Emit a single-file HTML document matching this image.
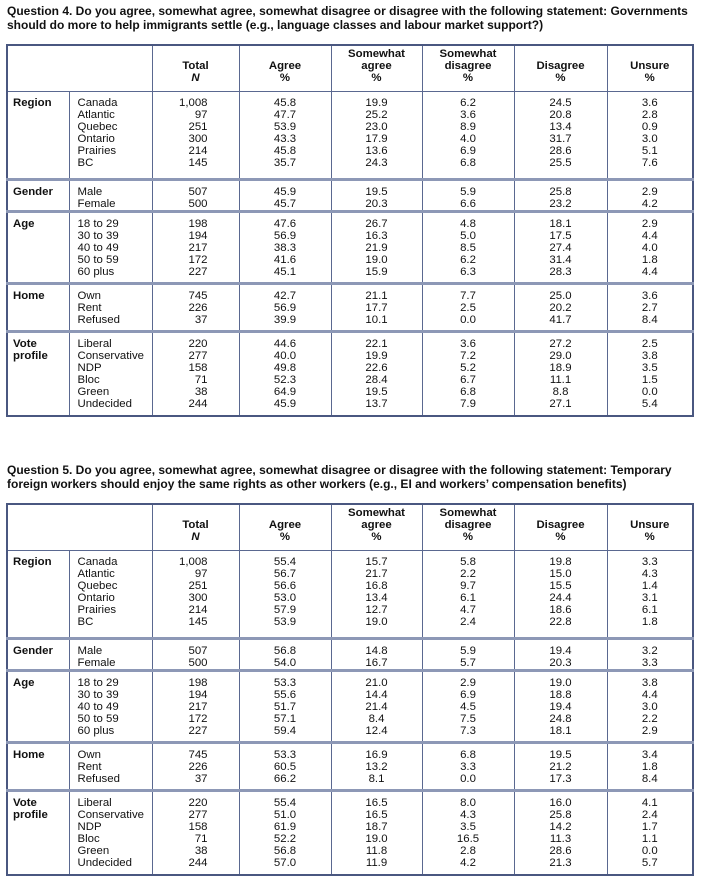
<!DOCTYPE html>
<html><head><meta charset="utf-8"><style>
body{margin:0;width:701px;height:886px;background:#fff;font-family:"Liberation Sans",sans-serif;color:#111;position:relative;overflow:hidden}
.t{position:absolute;left:7px;font-weight:bold;font-size:12px;line-height:14px;white-space:nowrap}
table{position:absolute;left:6px;border-collapse:collapse;table-layout:fixed;font-size:11.4px;line-height:12px}
td,th{border:1.5px solid #5a6890;padding:0;vertical-align:top}
th{font-weight:bold;text-align:center;vertical-align:bottom;padding-bottom:7px;height:38px}
tr.g td{border-top:3px solid #8d98b6}
td{padding-top:5px}
td.l1{font-weight:bold;padding-left:5px}
td.l2{padding-left:8px}
td.n{text-align:right;padding-right:31px}
td.c{text-align:center}
table{border:2px solid #4a5780}
</style></head><body>
<div class="t" style="top:4px">Question 4. Do you agree, somewhat agree, somewhat disagree or disagree with the following statement: Governments<br>should do more to help immigrants settle (e.g., language classes and labour market support?)</div>
<table style="top:44px;width:688px">
<colgroup><col style="width:62px"><col style="width:83px"><col style="width:87px"><col style="width:92px"><col style="width:91px"><col style="width:92px"><col style="width:93px"><col style="width:86px"></colgroup>
<tr><th colspan="2" style="height:38px"></th><th>Total<br><i>N</i></th><th>Agree<br>%</th><th>Somewhat<br>agree<br>%</th><th>Somewhat<br>disagree<br>%</th><th>Disagree<br>%</th><th>Unsure<br>%</th></tr>
<tr style="height:88px"><td class="l1">Region</td><td class="l2">Canada<br>Atlantic<br>Quebec<br>Ontario<br>Prairies<br>BC</td><td class="n">1,008<br>97<br>251<br>300<br>214<br>145</td><td class="c">45.8<br>47.7<br>53.9<br>43.3<br>45.8<br>35.7</td><td class="c">19.9<br>25.2<br>23.0<br>17.9<br>13.6<br>24.3</td><td class="c">6.2<br>3.6<br>8.9<br>4.0<br>6.9<br>6.8</td><td class="c">24.5<br>20.8<br>13.4<br>31.7<br>28.6<br>25.5</td><td class="c">3.6<br>2.8<br>0.9<br>3.0<br>5.1<br>7.6</td></tr>
<tr class="g" style="height:32px"><td class="l1">Gender</td><td class="l2">Male<br>Female</td><td class="n">507<br>500</td><td class="c">45.9<br>45.7</td><td class="c">19.5<br>20.3</td><td class="c">5.9<br>6.6</td><td class="c">25.8<br>23.2</td><td class="c">2.9<br>4.2</td></tr>
<tr class="g" style="height:72px"><td class="l1">Age</td><td class="l2">18 to 29<br>30 to 39<br>40 to 49<br>50 to 59<br>60 plus</td><td class="n">198<br>194<br>217<br>172<br>227</td><td class="c">47.6<br>56.9<br>38.3<br>41.6<br>45.1</td><td class="c">26.7<br>16.3<br>21.9<br>19.0<br>15.9</td><td class="c">4.8<br>5.0<br>8.5<br>6.2<br>6.3</td><td class="c">18.1<br>17.5<br>27.4<br>31.4<br>28.3</td><td class="c">2.9<br>4.4<br>4.0<br>1.8<br>4.4</td></tr>
<tr class="g" style="height:48px"><td class="l1">Home</td><td class="l2">Own<br>Rent<br>Refused</td><td class="n">745<br>226<br>37</td><td class="c">42.7<br>56.9<br>39.9</td><td class="c">21.1<br>17.7<br>10.1</td><td class="c">7.7<br>2.5<br>0.0</td><td class="c">25.0<br>20.2<br>41.7</td><td class="c">3.6<br>2.7<br>8.4</td></tr>
<tr class="g" style="height:84px"><td class="l1">Vote<br>profile</td><td class="l2">Liberal<br>Conservative<br>NDP<br>Bloc<br>Green<br>Undecided</td><td class="n">220<br>277<br>158<br>71<br>38<br>244</td><td class="c">44.6<br>40.0<br>49.8<br>52.3<br>64.9<br>45.9</td><td class="c">22.1<br>19.9<br>22.6<br>28.4<br>19.5<br>13.7</td><td class="c">3.6<br>7.2<br>5.2<br>6.7<br>6.8<br>7.9</td><td class="c">27.2<br>29.0<br>18.9<br>11.1<br>8.8<br>27.1</td><td class="c">2.5<br>3.8<br>3.5<br>1.5<br>0.0<br>5.4</td></tr>
</table>

<div class="t" style="top:463px">Question 5. Do you agree, somewhat agree, somewhat disagree or disagree with the following statement: Temporary<br>foreign workers should enjoy the same rights as other workers (e.g., EI and workers’ compensation benefits)</div>
<table style="top:503px;width:688px">
<colgroup><col style="width:62px"><col style="width:83px"><col style="width:87px"><col style="width:92px"><col style="width:91px"><col style="width:92px"><col style="width:93px"><col style="width:86px"></colgroup>
<tr><th colspan="2"></th><th>Total<br><i>N</i></th><th>Agree<br>%</th><th>Somewhat<br>agree<br>%</th><th>Somewhat<br>disagree<br>%</th><th>Disagree<br>%</th><th>Unsure<br>%</th></tr>
<tr style="height:88px"><td class="l1">Region</td><td class="l2">Canada<br>Atlantic<br>Quebec<br>Ontario<br>Prairies<br>BC</td><td class="n">1,008<br>97<br>251<br>300<br>214<br>145</td><td class="c">55.4<br>56.7<br>56.6<br>53.0<br>57.9<br>53.9</td><td class="c">15.7<br>21.7<br>16.8<br>13.4<br>12.7<br>19.0</td><td class="c">5.8<br>2.2<br>9.7<br>6.1<br>4.7<br>2.4</td><td class="c">19.8<br>15.0<br>15.5<br>24.4<br>18.6<br>22.8</td><td class="c">3.3<br>4.3<br>1.4<br>3.1<br>6.1<br>1.8</td></tr>
<tr class="g" style="height:32px"><td class="l1">Gender</td><td class="l2">Male<br>Female</td><td class="n">507<br>500</td><td class="c">56.8<br>54.0</td><td class="c">14.8<br>16.7</td><td class="c">5.9<br>5.7</td><td class="c">19.4<br>20.3</td><td class="c">3.2<br>3.3</td></tr>
<tr class="g" style="height:72px"><td class="l1">Age</td><td class="l2">18 to 29<br>30 to 39<br>40 to 49<br>50 to 59<br>60 plus</td><td class="n">198<br>194<br>217<br>172<br>227</td><td class="c">53.3<br>55.6<br>51.7<br>57.1<br>59.4</td><td class="c">21.0<br>14.4<br>21.4<br>8.4<br>12.4</td><td class="c">2.9<br>6.9<br>4.5<br>7.5<br>7.3</td><td class="c">19.0<br>18.8<br>19.4<br>24.8<br>18.1</td><td class="c">3.8<br>4.4<br>3.0<br>2.2<br>2.9</td></tr>
<tr class="g" style="height:48px"><td class="l1">Home</td><td class="l2">Own<br>Rent<br>Refused</td><td class="n">745<br>226<br>37</td><td class="c">53.3<br>60.5<br>66.2</td><td class="c">16.9<br>13.2<br>8.1</td><td class="c">6.8<br>3.3<br>0.0</td><td class="c">19.5<br>21.2<br>17.3</td><td class="c">3.4<br>1.8<br>8.4</td></tr>
<tr class="g" style="height:84px"><td class="l1">Vote<br>profile</td><td class="l2">Liberal<br>Conservative<br>NDP<br>Bloc<br>Green<br>Undecided</td><td class="n">220<br>277<br>158<br>71<br>38<br>244</td><td class="c">55.4<br>51.0<br>61.9<br>52.2<br>56.8<br>57.0</td><td class="c">16.5<br>16.5<br>18.7<br>19.0<br>11.8<br>11.9</td><td class="c">8.0<br>4.3<br>3.5<br>16.5<br>2.8<br>4.2</td><td class="c">16.0<br>25.8<br>14.2<br>11.3<br>28.6<br>21.3</td><td class="c">4.1<br>2.4<br>1.7<br>1.1<br>0.0<br>5.7</td></tr>
</table>
</body></html>
